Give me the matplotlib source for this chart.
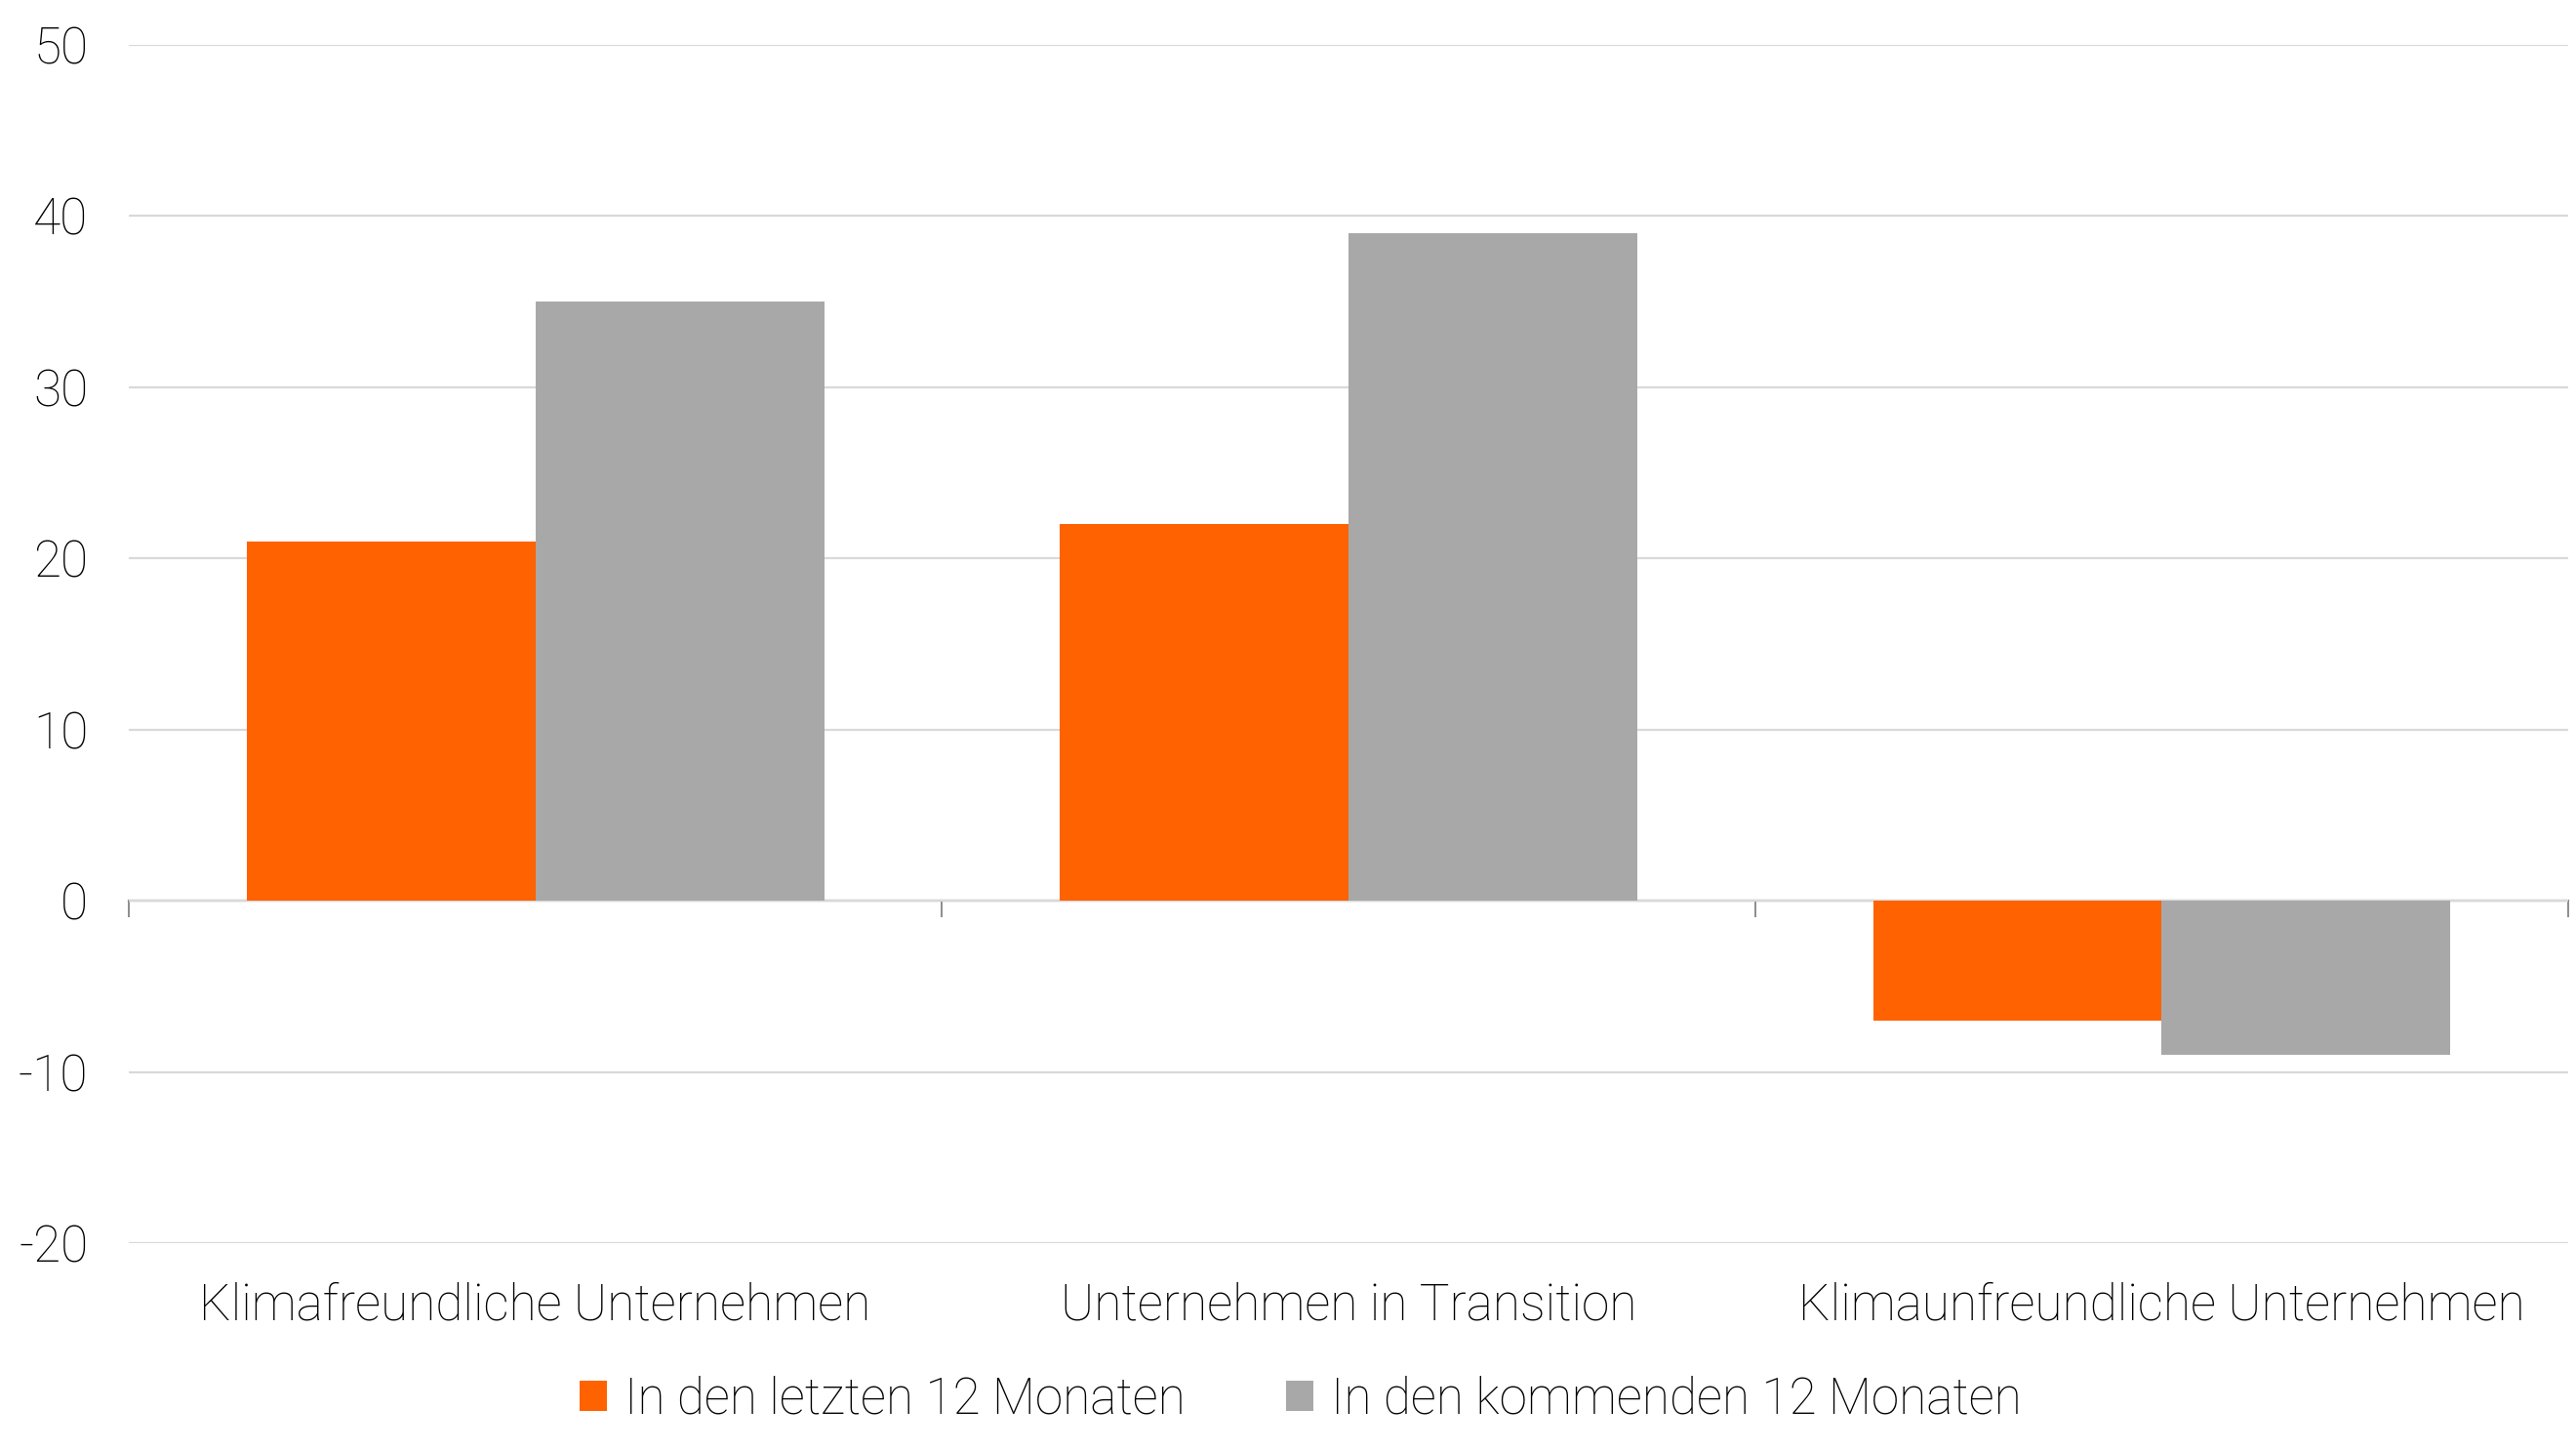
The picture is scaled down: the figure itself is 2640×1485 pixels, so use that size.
import matplotlib.pyplot as plt
import numpy as np

# Data
categories = ['Klimafreundliche Unternehmen', 'Unternehmen in Transition', 'Klimaunfreundliche Unternehmen']
letzte_12 = [21, 22, -7]
kommende_12 = [35, 39, -9]
series_labels = ['In den letzten 12 Monaten', 'In den kommenden 12 Monaten']
yticks = [-20, -10, 0, 10, 20, 30, 40, 50]

plt.rcParams['font.family'] = ['Roboto', 'DejaVu Sans']
plt.rcParams['font.weight'] = 'light'
fs = 18.5

fig = plt.figure(figsize=(13.2, 7.425), dpi=200)
ax = fig.add_axes([0.05, 0.142, 0.947, 0.827])

x = np.arange(len(categories))
w = 0.355
ax.bar(x - w / 2, letzte_12, w, color='#FF6200', label=series_labels[0], zorder=2)
ax.bar(x + w / 2, kommende_12, w, color='#A8A8A8', label=series_labels[1], zorder=2)

ax.set_xlim(-0.5, 2.5)
ax.set_ylim(-20, 50)
ax.set_yticks(yticks)
ax.set_yticklabels([str(v) for v in yticks], fontsize=fs)
ax.grid(axis='y', color='#D9D9D9', linewidth=0.8, zorder=0)
ax.tick_params(axis='y', length=0, pad=15)

ax.set_xticks(x)
ax.set_xticklabels(categories, fontsize=fs)
ax.tick_params(axis='x', length=0, pad=14)

for s in ax.spines.values():
    s.set_visible(False)

# zero line with category boundary ticks
sec = ax.secondary_xaxis(20 / 70)
sec.set_xticks([-0.5, 0.5, 1.5, 2.5])
sec.set_xticklabels([])
sec.tick_params(axis='x', direction='out', length=6, width=0.7, color='#8C8C8C')
sec.spines['bottom'].set_color('#8C8C8C')
sec.spines['bottom'].set_linewidth(0.8)

fig.legend(loc='center', bbox_to_anchor=(0.505, 0.034), ncol=2, frameon=False,
           fontsize=fs, handlelength=0.55, handleheight=0.55,
           handletextpad=0.35, columnspacing=2.0)

plt.savefig('out.png', dpi=200)
